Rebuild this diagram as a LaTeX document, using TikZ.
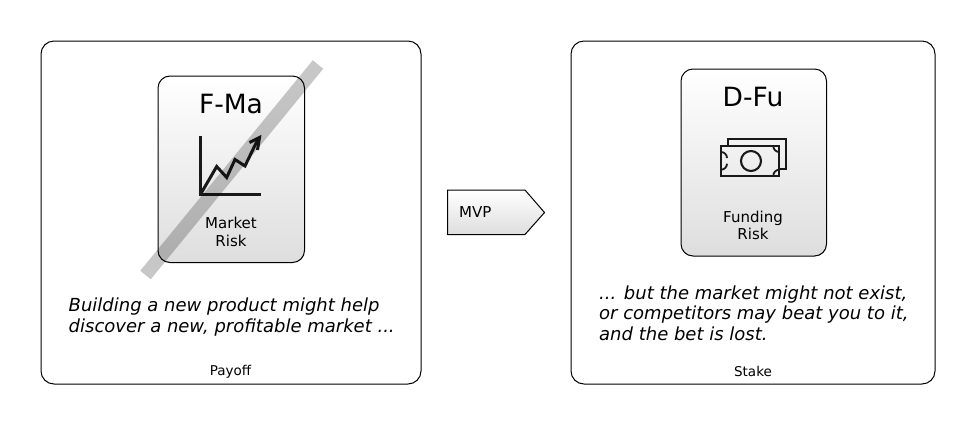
\documentclass[tikz,border=0pt]{standalone}
\usepackage{fontspec}
\setmainfont{DejaVu Sans}
\usetikzlibrary{arrows.meta}
\tikzset{
  outerbox/.style={draw=black,line width=1pt,rounded corners=13pt,fill=white},
  innerbox/.style={draw=black,line width=1pt,rounded corners=12pt,top color=white,bottom color=black!13},
  slashbar/.style={line width=13.5pt,draw=black,draw opacity=0.22},
  iconline/.style={line width=3pt,draw=black!90,line join=miter},
  moneyline/.style={line width=2.1pt,draw=black!90},
  bigtitle/.style={font=\fontsize{26.5}{26.5}\selectfont,inner sep=0pt,anchor=center},
  risklabel/.style={font=\fontsize{15}{17.5}\selectfont,align=center,inner sep=0pt,anchor=center},
  bodytext/.style={font=\fontsize{18}{20.5}\selectfont\itshape,align=left,inner sep=0pt,anchor=west},
  footlabel/.style={font=\fontsize{13.5}{15}\selectfont,inner sep=0pt,anchor=center}
}
\begin{document}
\begin{tikzpicture}[x=1pt,y=-1pt]
\useasboundingbox (0,0) rectangle (975,424);
\fill[white] (0,0) rectangle (975,424);
% outer panels
\draw[outerbox] (41,41) rectangle (421,384);
\draw[outerbox] (571,41) rectangle (935,384);
% inner cards
\draw[innerbox] (158,76) rectangle (304.5,262.5);
\draw[innerbox] (681,69) rectangle (826.5,256);
% chart icon
\draw[iconline] (200.5,136) -- (200.5,194.3) -- (260.5,194.3);
\draw[iconline] (200.7,194) -- (216.7,166.5) -- (226.7,177.5) -- (235,159.5) -- (245,166) -- (258,139);
\draw[iconline] (249.5,142.5) -- (259.5,137.5) -- (257.5,150);
% money icon
\draw[moneyline] (727.7,146) -- (727.7,139.3) -- (785.7,139.3) -- (785.7,169) -- (779.3,169);
\draw[moneyline] (721,146) rectangle (779.3,175.7);
\draw[moneyline] (751,161) circle (10);
\draw[line width=1.8pt,black!90] (721,152) arc (-90:0:6);
\draw[line width=1.8pt,black!90] (773.3,146) arc (180:90:6);
\draw[line width=1.8pt,black!90] (721,169.7) arc (90:0:6);
\draw[line width=1.8pt,black!90] (773.3,175.7) arc (180:270:6);
% prohibited bar
\coordinate (slashA) at (145.5,275);
\coordinate (slashB) at (318,64.5);
\draw[slashbar] (slashA) -- (slashB);
% texts
\node[bigtitle] (fma) at (231,104) {F-Ma};
\node[risklabel] (mrisk) at (231,232) {Market\\Risk};
\node[bigtitle] (dfu) at (753,97.5) {D-Fu};
\node[risklabel] (frisk) at (753,225.5) {Funding\\Risk};
\node[bodytext] (lefttext) at (68.5,317) {Building a new product might help\\discover a new, profitable market ...};
\node[bodytext] (righttext) at (599,313) {... but the market might not exist,\\or competitors may beat you to it,\\and the bet is lost.};
\node[footlabel] (payoff) at (230.5,371.5) {Payoff};
\node[footlabel] (stake) at (753,371.5) {Stake};
% MVP pentagon
\draw[draw=black,line width=1pt,top color=white,bottom color=black!13] (447.5,190) -- (525,190) -- (544.5,212.5) -- (525,234.5) -- (447.5,234.5) -- cycle;
\node[font=\fontsize{15}{15}\selectfont,inner sep=0pt,anchor=west] (mvp) at (459,212.5) {MVP};
\end{tikzpicture}
\end{document}
